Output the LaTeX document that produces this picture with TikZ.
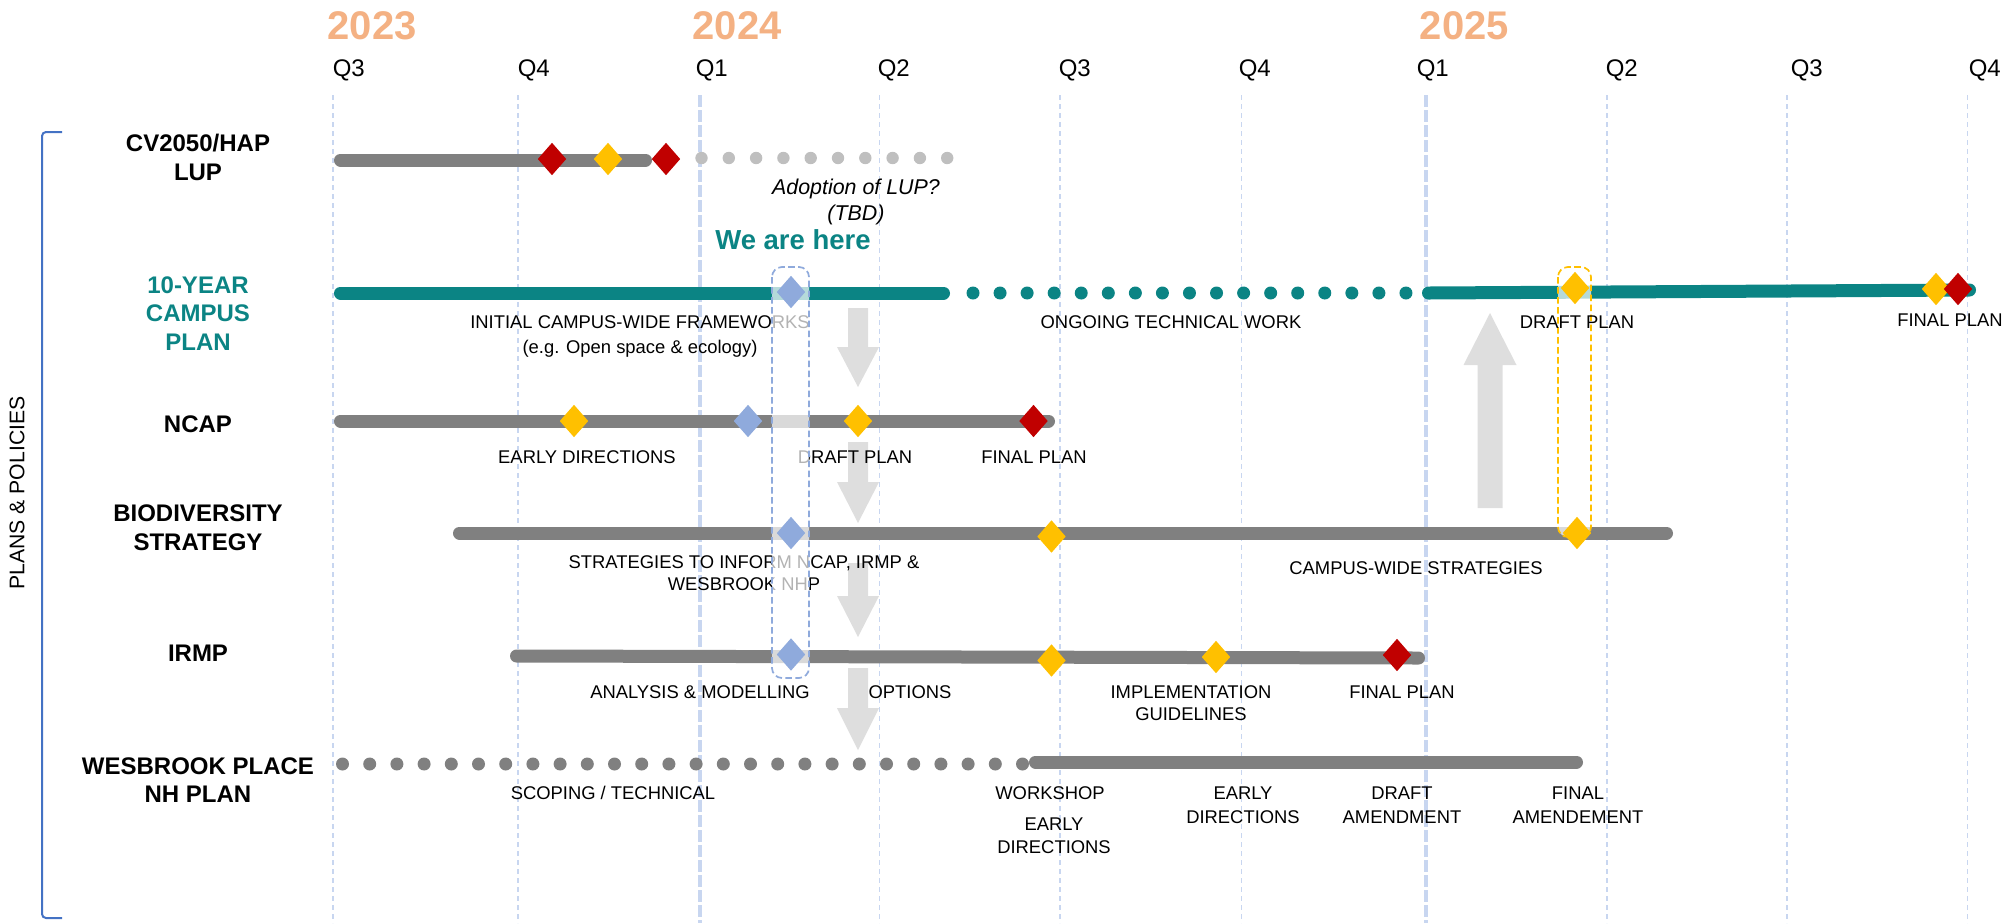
\documentclass[tikz,border=0pt]{standalone}
\usepackage{fontspec}
\setmainfont{Liberation Sans}
\usetikzlibrary{shapes.geometric}

\definecolor{yearorange}{RGB}{244,177,131}
\definecolor{campusteal}{RGB}{11,132,132}
\definecolor{bargrey}{RGB}{128,128,128}
\definecolor{dotgrey}{RGB}{191,191,191}
\definecolor{arrowgrey}{RGB}{222,222,222}
\definecolor{gridblue}{RGB}{200,214,240}
\definecolor{mileblue}{RGB}{143,170,220}
\definecolor{mileyellow}{RGB}{255,192,0}
\definecolor{milered}{RGB}{192,0,0}
\definecolor{bracketblue}{RGB}{68,114,196}

\tikzset{every picture/.style={line width=0.75pt}}
\tikzset{
	quarterline/.style={draw=gridblue, line width=0.75pt, dash pattern={on 2.5pt off 2pt}},
	yearline/.style={draw=gridblue, line width=2pt, dash pattern={on 6pt off 1.5pt}},
	bar/.style={line width=6.5pt, line cap=round},
	milestone/.style={shape=diamond, fill=#1, inner sep=0pt, minimum width=14.5pt, minimum height=16.5pt},
	rowlabel/.style={font=\fontsize{12}{14.5}\selectfont\bfseries, align=center},
	steplabel/.style={font=\fontsize{9.2}{12}\selectfont, align=center},
	qlabel/.style={font=\fontsize{12}{14}\selectfont, anchor=west, inner sep=0pt},
	yearlabel/.style={font=\fontsize{20}{24}\selectfont\bfseries, text=yearorange, anchor=west, inner sep=0pt},
	bigarrow/.style={fill=arrowgrey},
	focusbox/.style={rounded corners=5pt, line width=0.85pt, dash pattern={on 3.3pt off 1.7pt}, fill=white, fill opacity=0.7},
}

\begin{document}
\begin{tikzpicture}[x=0.5pt,y=0.5pt,yscale=-1,xscale=1]
	\useasboundingbox (0,0) rectangle (2010,923);
	
	%Straight Lines: quarter grid
	\foreach \qx in {333,518,879.5,1060,1241.5,1607,1787,1967.5}
		\draw [quarterline] (\qx,95) -- (\qx,923);
	%Straight Lines: year grid
	\foreach \qx in {700,1426}
		\draw [yearline] (\qx,95) -- (\qx,923);
	
	% Text Node
	\node [yearlabel] (y2023) at (327,26) {2023};
	\node [yearlabel] (y2024) at (692,26) {2024};
	\node [yearlabel] (y2025) at (1419,26) {2025};
	% Text Node
	\node [qlabel] (q1) at (332,70) {Q3};
	\node [qlabel] (q2) at (517,70) {Q4};
	\node [qlabel] (q3) at (695,70) {Q1};
	\node [qlabel] (q4) at (877,70) {Q2};
	\node [qlabel] (q5) at (1058,70) {Q3};
	\node [qlabel] (q6) at (1238,70) {Q4};
	\node [qlabel] (q7) at (1416,70) {Q1};
	\node [qlabel] (q8) at (1605,70) {Q2};
	\node [qlabel] (q9) at (1790,70) {Q3};
	\node [qlabel] (q10) at (1968,70) {Q4};
	
	%Shape: Bracket
	\draw [bracketblue, line width=1pt, rounded corners=2pt] (62,132) -- (42,132) -- (42,918) -- (62,918);
	% Text Node
	\node [font=\fontsize{10.6}{12}\selectfont, rotate=90] (plans) at (17,493) {PLANS \& POLICIES};
	
	%Shape: Block Arrows
	\fill [bigarrow] (848,308) -- (868,308) -- (868,347) -- (879,347) -- (858,387) -- (837,347) -- (848,347) -- cycle;
	\fill [bigarrow] (848,442) -- (868,442) -- (868,482) -- (879,482) -- (858,523) -- (837,482) -- (848,482) -- cycle;
	\fill [bigarrow] (848,563) -- (868,563) -- (868,596) -- (879,596) -- (858,637) -- (837,596) -- (848,596) -- cycle;
	\fill [bigarrow] (848,668) -- (868,668) -- (868,708) -- (879,708) -- (858,750) -- (837,708) -- (848,708) -- cycle;
	\fill [bigarrow] (1477.5,508) -- (1502.5,508) -- (1502.5,365) -- (1516.5,365) -- (1490,313) -- (1463.5,365) -- (1477.5,365) -- cycle;
	
	%Straight Lines: CV2050/HAP LUP
	\draw [bar, bargrey] (340.5,160) -- (645.5,160);
	\foreach \k in {0,...,9}
		\fill [dotgrey] ({701.5+27.3*\k},158) circle (3.1pt);
	%Straight Lines: 10-year campus plan
	\draw [bar, campusteal] (340.5,293) -- (943.5,293);
	\foreach \k in {0,...,16}
		\fill [campusteal] ({973+27.06*\k},293) circle (3.25pt);
	\draw [bar, campusteal] (1428.5,293) -- (1969.5,290);
	%Straight Lines: NCAP
	\draw [bar, bargrey] (340.5,421) -- (1048.5,421);
	%Straight Lines: biodiversity strategy
	\draw [bar, bargrey] (459.5,533) -- (1666.5,533);
	%Straight Lines: IRMP
	\draw [bar, bargrey] (516.5,656) -- (1418.5,658);
	%Straight Lines: Wesbrook Place
	\foreach \k in {0,...,25}
		\fill [bargrey] ({342.5+27.2*\k},764) circle (3.25pt);
	\draw [bar, bargrey] (1035.5,762) -- (1576.5,762);
	
	% Text Node
	\node [steplabel, font=\fontsize{10.7}{13}\selectfont\itshape] (adopt) at (856,202) {Adoption of LUP?\\(TBD)};
	\node [font=\fontsize{13.75}{16}\selectfont\bfseries, text=campusteal] (here) at (793,240) {We are here};
	\node [steplabel, font=\fontsize{9.2}{12.5}\selectfont] (initial) at (640,336) {INITIAL CAMPUS-WIDE FRAMEWORKS\\(e.g. Open space \& ecology)};
	\node [steplabel] (ongoing) at (1171,322) {ONGOING TECHNICAL WORK};
	\node [steplabel] (cpfinal) at (1950,320) {FINAL PLAN};
	\node [steplabel] (ncearly) at (587,457) {EARLY DIRECTIONS};
	\node [steplabel] (ncdraft) at (855,457) {DRAFT PLAN};
	\node [steplabel] (ncfinal) at (1034,457) {FINAL PLAN};
	\node [steplabel, font=\fontsize{9.2}{11}\selectfont] (inform) at (744,573) {STRATEGIES TO INFORM NCAP, IRMP \&\\WESBROOK NHP};
	\node [steplabel] (bdwide) at (1416,568) {CAMPUS-WIDE STRATEGIES};
	\node [steplabel] (irana) at (700,692) {ANALYSIS \& MODELLING};
	\node [steplabel] (iropt) at (910,692) {OPTIONS};
	\node [steplabel, font=\fontsize{9.2}{11}\selectfont] (irimpl) at (1191,703) {IMPLEMENTATION\\GUIDELINES};
	\node [steplabel] (irfinal) at (1402,692) {FINAL PLAN};
	\node [steplabel] (wbscope) at (613,793) {SCOPING / TECHNICAL};
	\node [steplabel] (wbwork) at (1050,793) {WORKSHOP};
	\node [steplabel, font=\fontsize{9.2}{11.5}\selectfont] (wbearlyA) at (1054,835.5) {EARLY\\DIRECTIONS};
	\node [steplabel] (wbearlyB) at (1243,805) {EARLY\\DIRECTIONS};
	\node [steplabel] (wbdraft) at (1402,805) {DRAFT\\AMENDMENT};
	\node [steplabel] (wbfinal) at (1578,805) {FINAL\\AMENDEMENT};
	
	%Shape: Rounded Rectangle (we are here)
	\draw [focusbox, draw=mileblue] (772,267) rectangle (809,678);
	%Shape: Rounded Rectangle (draft plan)
	\draw [focusbox, draw=mileyellow] (1558,267) rectangle (1591,537);
	% Text Node
	\node [steplabel] (cpdraft) at (1577,322) {DRAFT PLAN};
	
	%Shape: Diamond
	\node [milestone=milered] (cvA) at (552,159) {};
	\node [milestone=mileyellow] (cvB) at (608,159) {};
	\node [milestone=milered] (cvC) at (666,159) {};
	\node [milestone=mileblue] (cpA) at (791,292) {};
	\node [milestone=mileyellow] (cpB) at (1575,288) {};
	\node [milestone=mileyellow] (cpC) at (1936,289) {};
	\node [milestone=milered] (cpD) at (1958,289) {};
	\node [milestone=mileyellow] (ncA) at (574,421) {};
	\node [milestone=mileblue] (ncB) at (748,421) {};
	\node [milestone=mileyellow] (ncC) at (858,421) {};
	\node [milestone=milered] (ncD) at (1033.5,421) {};
	\node [milestone=mileblue] (bdA) at (791,533) {};
	\node [milestone=mileyellow] (bdB) at (1051.5,536.5) {};
	\node [milestone=mileyellow] (bdC) at (1577,533) {};
	\node [milestone=mileblue] (irA) at (791,654.5) {};
	\node [milestone=mileyellow] (irB) at (1051.5,660.5) {};
	\node [milestone=mileyellow] (irC) at (1216,657) {};
	\node [milestone=milered] (irD) at (1397,655) {};
	
	% Text Node
	\node [rowlabel] (cv) at (198,157.5) {CV2050/HAP\\LUP};
	\node [rowlabel, text=campusteal, font=\fontsize{12}{14.25}\selectfont\bfseries] (cp) at (198,313.5) {10-YEAR\\CAMPUS\\PLAN};
	\node [rowlabel] (nc) at (198,424.5) {NCAP};
	\node [rowlabel] (bd) at (198,527.5) {BIODIVERSITY\\STRATEGY};
	\node [rowlabel] (ir) at (198,653.5) {IRMP};
	\node [rowlabel, font=\fontsize{12}{14}\selectfont\bfseries] (wb) at (198,780) {WESBROOK PLACE\\NH PLAN};
	
\end{tikzpicture}
\end{document}
